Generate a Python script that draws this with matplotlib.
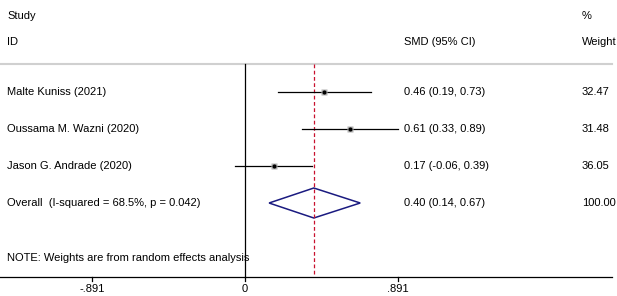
import matplotlib.pyplot as plt
from matplotlib.patches import Polygon

plt.rcParams['font.family'] = ['Liberation Sans', 'DejaVu Sans']

studies = ["Malte Kuniss (2021)", "Oussama M. Wazni (2020)", "Jason G. Andrade (2020)"]
smd = [0.46, 0.61, 0.17]
lower = [0.19, 0.33, -0.06]
upper = [0.73, 0.89, 0.39]
weights = ["32.47", "31.48", "36.05"]

overall_label = "Overall  (I-squared = 68.5%, p = 0.042)"
overall = 0.40
overall_lo = 0.14
overall_hi = 0.67
overall_w = "100.00"

xticks = [-0.891, 0, 0.891]
xticklabels = ["-.891", "0", ".891"]

# pixel scale: 172 px per unit, zero at x=245
W, H = 617, 296
scale = 172.0
x0 = 245.0
xmin = -x0 / scale
xmax = (W - x0) / scale

fig = plt.figure(figsize=(W / 100, H / 100), dpi=100)
ax = fig.add_axes([0, 0, 1, 1])
ax.set_xlim(xmin, xmax)
ax.set_ylim(H, 0)
ax.axis('off')

def px(x):
    return xmin + x / scale

fs = 8
col_study = px(7)
col_smd = px(404)
col_w = px(582)

# headers
ax.text(col_study, 16, "Study", fontsize=fs, va='center')
ax.text(col_w, 16, "%", fontsize=fs, va='center')
ax.text(col_study, 42, "ID", fontsize=fs, va='center')
ax.text(col_smd, 42, "SMD (95% CI)", fontsize=fs, va='center')
ax.text(col_w, 42, "Weight", fontsize=fs, va='center')
ax.plot([xmin, px(612)], [64, 64], color='#d0d0d0', lw=1.5)

# reference lines
ax.plot([0, 0], [64, 277], color='black', lw=0.9)
ax.plot([overall, overall], [64, 277], color='#c8102e', lw=0.9, ls=(0, (3, 2)))

rows_y = [92, 129, 166]
for i, name in enumerate(studies):
    y = rows_y[i]
    ax.plot([lower[i], upper[i]], [y, y], color='black', lw=0.9)
    ax.plot(smd[i], y, marker='s', ms=4.5, color='#b0b0b0', mec='none')
    ax.plot(smd[i], y, marker='o', ms=3, color='black', mec='none')
    ax.text(col_study, y, name, fontsize=fs, va='center')
    ax.text(col_smd, y, "%.2f (%.2f, %.2f)" % (smd[i], lower[i], upper[i]), fontsize=fs, va='center')
    ax.text(col_w, y, weights[i], fontsize=fs, va='center')

# overall diamond
yo = 203
dia = Polygon([[overall_lo, yo], [overall, yo - 15], [overall_hi, yo], [overall, yo + 15]],
              closed=True, fill=False, edgecolor='#1a1a80', lw=1.1)
ax.add_patch(dia)
ax.text(col_study, yo, overall_label, fontsize=fs, va='center')
ax.text(col_smd, yo, "%.2f (%.2f, %.2f)" % (overall, overall_lo, overall_hi), fontsize=fs, va='center')
ax.text(col_w, yo, overall_w, fontsize=fs, va='center')

ax.text(col_study, 258, "NOTE: Weights are from random effects analysis", fontsize=fs, va='center')

# x axis
ax.plot([xmin, px(612)], [277, 277], color='black', lw=0.9)
for t, lab in zip(xticks, xticklabels):
    ax.plot([t, t], [277, 281], color='black', lw=0.9)
    ax.text(t, 289, lab, fontsize=fs, ha='center', va='center')

fig.savefig("out.png", dpi=100, facecolor='white')
